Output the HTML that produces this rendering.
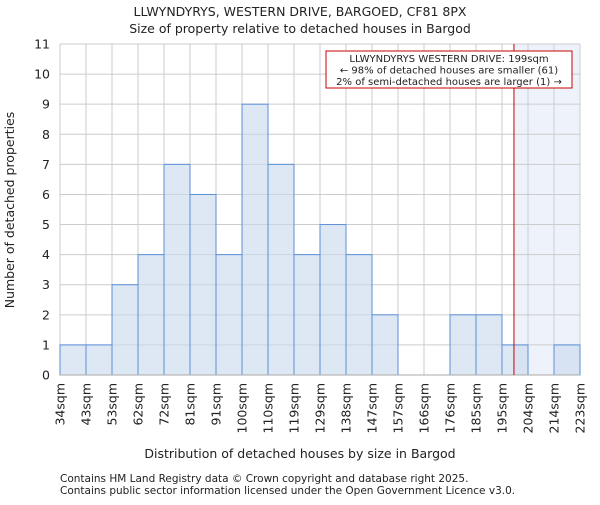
<!DOCTYPE html>
<html><head><meta charset="utf-8"><style>
body{margin:0;background:#fff}
svg text{font-family:"DejaVu Sans","Liberation Sans",sans-serif;fill:#222}
</style></head><body>
<svg id="c" width="600" height="500" xmlns="http://www.w3.org/2000/svg">
<text x="300" y="16" text-anchor="middle" font-size="12.5">LLWYNDYRYS, WESTERN DRIVE, BARGOED, CF81 8PX</text>
<text x="300" y="33" text-anchor="middle" font-size="12.5">Size of property relative to detached houses in Bargod</text>
<g id="plot"></g>
<text x="300" y="458" text-anchor="middle" font-size="12.5">Distribution of detached houses by size in Bargod</text>
<text transform="translate(14,210) rotate(-90)" text-anchor="middle" font-size="12.5">Number of detached properties</text>
<text x="60" y="482" font-size="10.5">Contains HM Land Registry data © Crown copyright and database right 2025.</text>
<text x="60" y="494" font-size="10.5">Contains public sector information licensed under the Open Government Licence v3.0.</text>
</svg>
<script>
const edgeLabels=["34sqm","43sqm","53sqm","62sqm","72sqm","81sqm","91sqm","100sqm","110sqm","119sqm","129sqm","138sqm","147sqm","157sqm","166sqm","176sqm","185sqm","195sqm","204sqm","214sqm","223sqm"];
const counts=[1,1,3,4,7,6,4,9,7,4,5,4,2,0,0,2,2,1,0,1];
const yTicks=[0,1,2,3,4,5,6,7,8,9,10,11];
const markerBin=17.46;
const NS="http://www.w3.org/2000/svg";
const L=60,R=580,T=44,B=375,yMax=11;
const nb=counts.length;
const xs=i=>L+(R-L)*i/nb;
const ys=v=>B-(B-T)*v/yMax;
const g=document.getElementById('plot');
function mk(t,a){const e=document.createElementNS(NS,t);for(const k in a)e.setAttribute(k,a[k]);g.appendChild(e);return e;}
const mx=xs(markerBin);
let e=mk('rect',{x:mx,y:T,width:R-mx,height:B-T,fill:'#eef3fb'});


yTicks.forEach(v=>{let l=mk('line',{x1:L,x2:R,y1:ys(v),y2:ys(v),stroke:'#cccccc'});


let t=mk('text',{x:L-10,y:ys(v)+4.5,'text-anchor':'end','font-size':'12.5'});t.textContent=v;

});
edgeLabels.forEach((s,i)=>{let l=mk('line',{x1:xs(i),x2:xs(i),y1:T,y2:B,stroke:'#cccccc'});


let x=xs(i)+4.5,y=B+8;
let t=mk('text',{x:x,y:y,transform:`rotate(-90 ${x} ${y})`,'text-anchor':'end','font-size':'12.5'});t.textContent=s;

});
counts.forEach((c,i)=>{if(!c)return;let r=mk('rect',{x:xs(i),y:ys(c),width:xs(i+1)-xs(i),height:B-ys(c),fill:'rgba(200,216,238,0.6)',stroke:'#5b8fd8','stroke-width':1});

});
e=mk('line',{x1:L,x2:R,y1:B,y2:B,stroke:'#aaaaaa'});


e=mk('line',{x1:mx,x2:mx,y1:T,y2:B,stroke:'#cc0000','stroke-width':1});


e=mk('rect',{x:326,y:51,width:246,height:37,fill:'#fff',stroke:'#cc0000'});


["LLWYNDYRYS WESTERN DRIVE: 199sqm","← 98% of detached houses are smaller (61)","2% of semi-detached houses are larger (1) →"].forEach((s,i)=>{
let t=mk('text',{x:449,y:62+i*11.5,'text-anchor':'middle','font-size':'10'});t.textContent=s;

});
</script>
</body></html>
